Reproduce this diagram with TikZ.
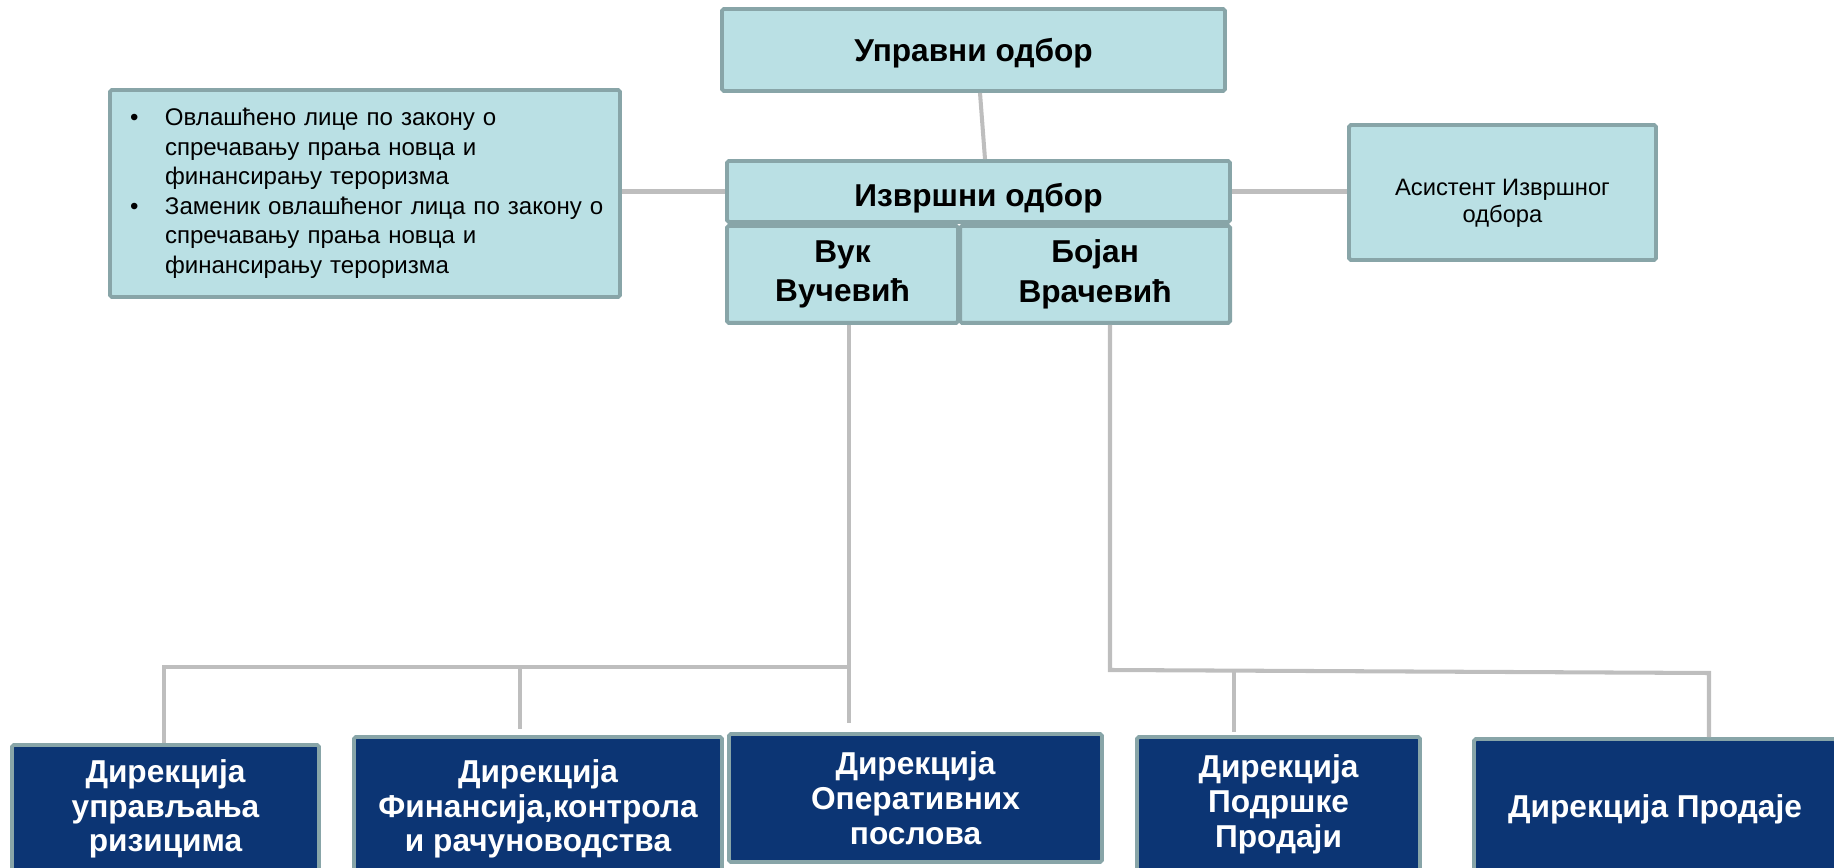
\documentclass[tikz,border=0pt]{standalone}
\usepackage{fontspec}
\setmainfont{Liberation Sans}
\usepackage{tikz}
\usetikzlibrary{positioning,calc}
\definecolor{orgfill}{RGB}{186,224,228}
\definecolor{orgedge}{RGB}{136,165,168}
\definecolor{orgnavy}{RGB}{12,53,116}
\definecolor{orgline}{RGB}{190,190,190}
\tikzset{
  board/.style={
    draw=orgedge,
    fill=orgfill,
    line width=2.2pt,
    rounded corners=1pt,
    align=center,
    inner sep=2pt,
    font=\fontsize{18}{22.7}\selectfont\bfseries
  },
  sidebox/.style={
    draw=orgedge,
    fill=orgfill,
    line width=2.2pt,
    rounded corners=1pt,
    inner sep=0pt,
    font=\fontsize{13.7}{16.8}\selectfont
  },
  dirbox/.style={
    draw=orgedge,
    fill=orgnavy,
    line width=2.2pt,
    rounded corners=1pt,
    align=center,
    text=white,
    minimum height=2.56cm,
    font=\fontsize{18}{19.8}\selectfont\bfseries
  },
  link/.style={orgline,line width=2.3pt}
}
\begin{document}
\begin{tikzpicture}[node distance=0pt]
  \clip (0,0) rectangle (36.68,-17.36);
  \node[board,minimum width=10.06cm,minimum height=1.64cm,text depth=0pt] (upr) at (19.47,-1.00) {Управни одбор};
  \node[board,minimum width=10.06cm,minimum height=1.22cm,text height=0.59cm,text depth=0pt] (izv) at (19.57,-3.83) {Извршни одбор};
  \node[board,anchor=north west,minimum width=4.62cm,minimum height=1.94cm] (vuk) at (izv.south west) {Вук\\Вучевић};
  \node[board,right=-1pt of vuk,minimum width=5.40cm,minimum height=1.94cm] (bojan) {Бојан\\Врачевић};
  \node[sidebox,minimum width=10.2cm,minimum height=4.14cm,text width=9.4cm,align=left] (aml) at (7.30,-3.87)
    {\begin{tabular}{@{}p{0.7cm}@{}l@{}}
      • & Овлашћено лице по закону о\\
        & спречавању прања новца и\\
        & финансирању тероризма\\
      • & Заменик овлашћеног лица по закону о\\
        & спречавању прања новца и\\
        & финансирању тероризма
    \end{tabular}};
  \node[sidebox,minimum width=6.14cm,minimum height=2.7cm,align=center,text height=1.3cm,font=\fontsize{13.5}{15.3}\selectfont] (asst) at (30.05,-3.85)
    {Асистент Извршног\\одбора};
  \node[dirbox,minimum width=6.14cm] (risk) at (3.31,-16.18) {Дирекција\\управљања\\ризицима};
  \node[dirbox,minimum width=7.36cm,minimum height=2.88cm] (fin) at (10.76,-16.18) {Дирекција\\Финансија,контрола\\и рачуноводства};
  \node[dirbox,minimum width=7.46cm] (oper) at (18.31,-15.96) {Дирекција\\Оперативних\\послова};
  \node[dirbox,minimum width=5.66cm,minimum height=2.7cm] (podr) at (25.57,-16.09) {Дирекција\\Подршке\\Продаји};
  \node[dirbox,minimum width=7.24cm,minimum height=2.8cm] (prod) at (33.10,-16.18) {Дирекција Продаје};
  \coordinate (ljoin) at (16.98,-13.34);
  \coordinate (lmid) at (10.40,-13.34);
  \coordinate (lend) at (3.28,-13.34);
  \coordinate (rjoin) at (22.20,-13.40);
  \coordinate (rmid) at (24.68,-13.42);
  \coordinate (rend) at (34.18,-13.46);
  \draw[link] ([xshift=1.3mm]upr.south) -- ([xshift=1.3mm]izv.north);
  \draw[link] (izv.west) -- (izv.west -| aml.east);
  \draw[link] (izv.east) -- (izv.east -| asst.west);
  \draw[link] (vuk.south -| ljoin) -- ([yshift=1.8mm]oper.north -| ljoin);
  \draw[link] (ljoin) -- (lend) -- (risk.north -| lend);
  \draw[link] (lmid) -- ([yshift=1.2mm]fin.north -| lmid);
  \draw[link] (bojan.south -| rjoin) -- (rjoin) -- (rend) -- (prod.north -| rend);
  \draw[link] (rmid) -- ([yshift=0.6mm]podr.north -| rmid);
\end{tikzpicture}
\end{document}
